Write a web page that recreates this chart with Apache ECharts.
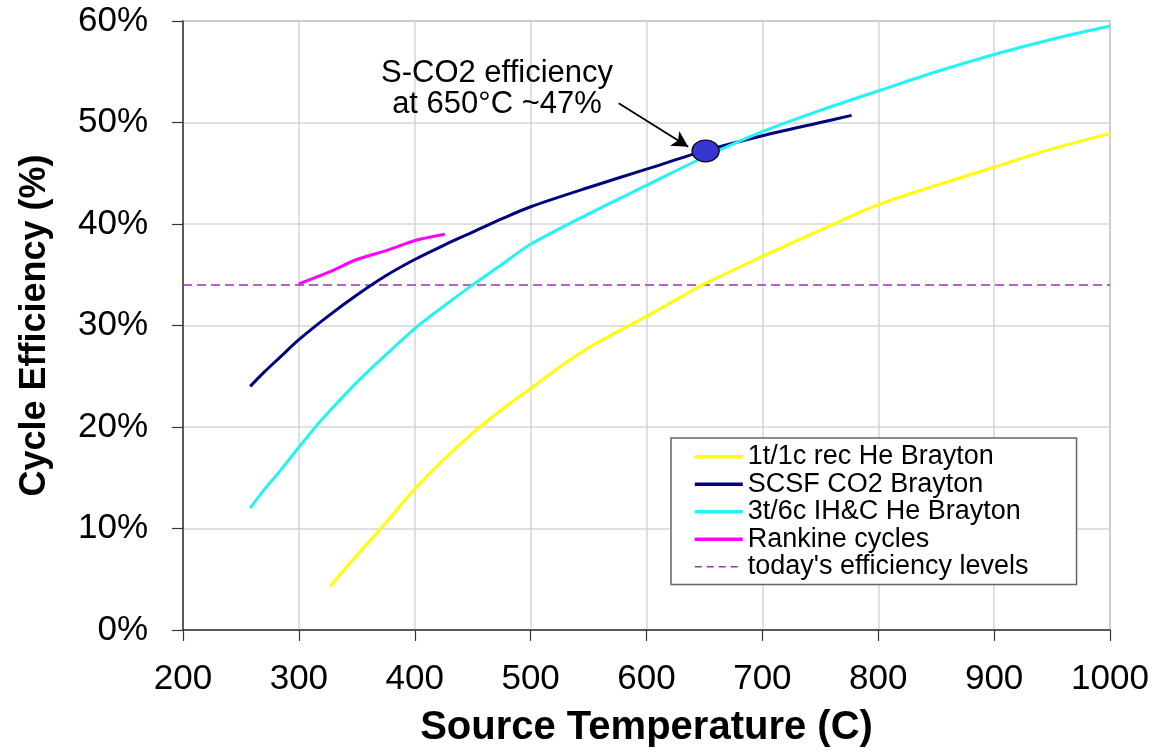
<!DOCTYPE html>
<html>
<head>
<meta charset="utf-8">
<title>Cycle Efficiency vs Source Temperature</title>
<script src="https://cdn.jsdelivr.net/npm/echarts@6/dist/echarts.min.js"></script>
<style>
  html, body { margin: 0; padding: 0; background: #fff; }
  #chart { width: 1156px; height: 754px; }
</style>
</head>
<body>
<div id="chart"></div>
<script>
  // axis ranges
  const xTicks = [200, 300, 400, 500, 600, 700, 800, 900, 1000]
  const yTicks = [0, 10, 20, 30, 40, 50, 60]

  // [source temperature (C), efficiency (%)]
  const heRecBrayton = [
    [327, 4.3], [345, 6.7], [367, 9.5], [385, 11.9], [400, 13.9], [425, 16.8],
    [450, 19.4], [475, 21.7], [500, 23.8], [525, 25.9], [550, 27.8], [575, 29.4],
    [600, 30.9], [625, 32.5], [650, 34.1], [700, 36.8], [750, 39.4], [800, 41.9],
    [850, 43.8], [900, 45.6], [950, 47.4], [1000, 48.9]
  ]
  const co2Brayton = [
    [258, 24.0], [270, 25.4], [284, 26.9], [300, 28.6], [325, 30.9], [350, 33.0],
    [375, 34.9], [400, 36.5], [425, 37.9], [450, 39.2], [475, 40.5],
    [500, 41.7], [550, 43.6], [600, 45.4], [650, 47.2], [700, 48.7], [750, 50.0],
    [777, 50.7]
  ]
  const heIHCBrayton = [
    [258, 12.0], [270, 13.8], [284, 15.7], [300, 18.0], [318, 20.5], [335, 22.6],
    [350, 24.4], [375, 27.1], [400, 29.7], [425, 31.9], [450, 34.0], [475, 36.0],
    [500, 38.0], [550, 41.0], [600, 43.8], [650, 46.6], [700, 49.1], [750, 51.2],
    [800, 53.1], [850, 55.0], [900, 56.7], [950, 58.2], [1000, 59.5]
  ]
  const rankine = [
    [300, 34.1], [327, 35.3], [350, 36.5], [376, 37.4], [401, 38.4], [426, 39.0]
  ]
  const todayLevel = [[200, 34], [1000, 34]]
  const sco2Point = [[651, 47.2]]
  const arrowFrom = [576, 51.9]
  const arrowTo = [636, 47.6]

  const seriesNames = [
    '1t/1c rec He Brayton',
    'SCSF CO2 Brayton',
    '3t/6c IH&C He Brayton',
    'Rankine cycles',
    "today's efficiency levels"
  ]
  const seriesColors = ['#ffff00', '#000080', '#22f4f4', '#ff00ff', '#9c32b0']

  const chart = echarts.init(document.getElementById('chart'))
  const font = 'Liberation Sans, Arial, Helvetica, sans-serif'

  const legendData = seriesNames.map((name, i) => ({
    name: name,
    lineStyle: i === 4
      ? { color: seriesColors[i], width: 1.5, type: [7, 5] }
      : { color: seriesColors[i], width: 3.5 }
  }))

  const lineSeries = (i, data, z) => ({
    name: seriesNames[i], type: 'line', data: data, symbol: 'none', smooth: 0.3,
    lineStyle: { color: seriesColors[i], width: 3 },
    itemStyle: { color: seriesColors[i] },
    z: z
  })

  const option = {
    backgroundColor: '#fff',
    animation: false,
    textStyle: { fontFamily: font },
    grid: {
      left: 183, right: 46, top: 21, bottom: 124,
      show: true, borderColor: '#9a9a9a', borderWidth: 1.5
    },
    legend: {
      data: legendData,
      orient: 'vertical',
      left: 671,
      top: 438,
      padding: [5, 48, 4, 22],
      itemWidth: 48,
      itemHeight: 14,
      itemGap: 0,
      borderColor: '#666',
      borderWidth: 1.5,
      backgroundColor: '#fff',
      selectedMode: false,
      itemStyle: { opacity: 0 },
      textStyle: { fontFamily: font, fontSize: 27, color: '#000', lineHeight: 27.5 }
    },
    xAxis: {
      type: 'value',
      min: xTicks[0],
      max: xTicks[xTicks.length - 1],
      interval: 100,
      name: 'Source Temperature (C)',
      nameLocation: 'middle',
      nameGap: 78,
      nameTextStyle: { fontFamily: font, fontSize: 40, fontWeight: 'bold', color: '#000', verticalAlign: 'top' },
      axisLine: { onZero: false, lineStyle: { color: '#333', width: 1.5 } },
      axisTick: { show: true, length: 11, lineStyle: { color: '#333', width: 1.2 } },
      axisLabel: { margin: 32, fontSize: 35, color: '#000', fontFamily: font, formatter: v => String(v) },
      splitLine: { show: true, lineStyle: { color: '#d6d6d6', width: 1.5 } }
    },
    yAxis: {
      type: 'value',
      min: yTicks[0],
      max: yTicks[yTicks.length - 1],
      interval: 10,
      name: 'Cycle Efficiency (%)',
      nameLocation: 'middle',
      nameGap: 130,
      nameRotate: 90,
      nameTextStyle: { fontFamily: font, fontSize: 36, fontWeight: 'bold', color: '#000' },
      axisLine: { show: true, onZero: false, lineStyle: { color: '#333', width: 1.5 } },
      axisTick: { show: true, length: 11, lineStyle: { color: '#333', width: 1.2 } },
      axisLabel: { margin: 35, fontSize: 35, color: '#000', fontFamily: font, formatter: '{value}%' },
      splitLine: { show: true, lineStyle: { color: '#d6d6d6', width: 1.5 } }
    },
    series: [
      {
        name: seriesNames[4], type: 'line', data: todayLevel, symbol: 'none',
        lineStyle: { color: seriesColors[4], width: 1.5, type: [9, 5] },
        itemStyle: { color: seriesColors[4] }, z: 2
      },
      lineSeries(0, heRecBrayton, 3),
      lineSeries(1, co2Brayton, 3),
      lineSeries(2, heIHCBrayton, 4),
      lineSeries(3, rankine, 3),
      {
        name: 'S-CO2 650C', type: 'scatter', data: sco2Point,
        symbol: 'circle', symbolSize: [27, 22],
        itemStyle: { color: '#3535cf', borderColor: '#000', borderWidth: 1.2, opacity: 1 },
        z: 6,
        markLine: {
          silent: true,
          symbol: ['none', 'arrow'],
          symbolSize: [13, 16],
          label: { show: false },
          lineStyle: { color: '#000', width: 1.8, type: 'solid' },
          data: [[{ coord: arrowFrom }, { coord: arrowTo }]]
        }
      }
    ],
    graphic: [
      {
        type: 'text',
        x: 497, y: 58,
        style: {
          text: 'S-CO2 efficiency\nat 650°C ~47%',
          font: '31px ' + font,
          fill: '#000',
          align: 'center',
          lineHeight: 31
        },
        z: 10
      }
    ]
  }
  chart.setOption(option)
</script>
</body>
</html>
